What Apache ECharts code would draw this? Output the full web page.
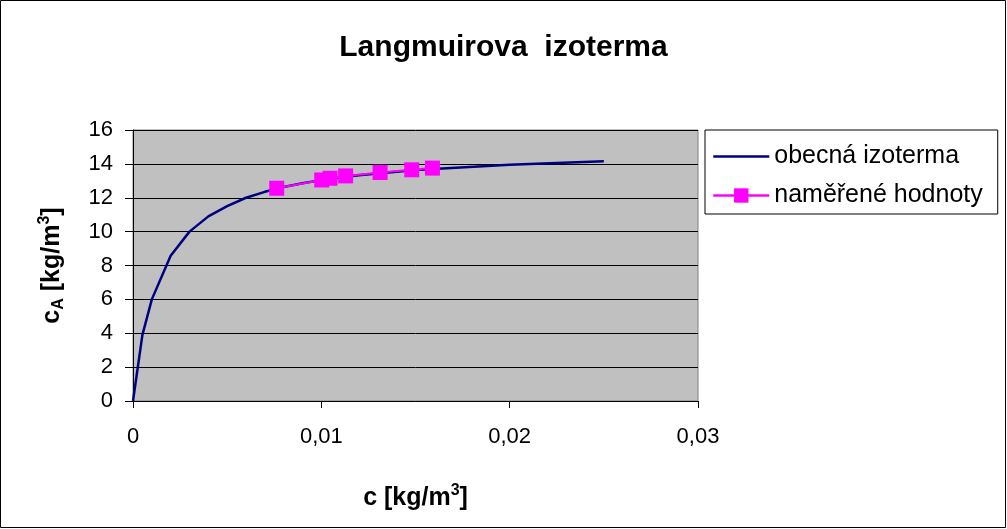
<!DOCTYPE html>
<html><head><meta charset="utf-8">
<script src="https://cdn.jsdelivr.net/npm/echarts@6/dist/echarts.min.js"></script>
<style>html,body{margin:0;padding:0;background:#fff}#c{width:1007px;height:529px}</style>
</head><body><div id="c"></div>
<script>
var curveC = [0, 0.0005, 0.001, 0.002, 0.003, 0.004, 0.005, 0.006, 0.007, 0.008, 0.009, 0.01, 0.012, 0.015, 0.02, 0.025];
var curveCA = [0, 3.9, 6.0, 8.57, 10.0, 10.9, 11.5, 12.0, 12.35, 12.63, 12.86, 13.04, 13.33, 13.64, 13.95, 14.15];
var measC = [0.00763, 0.01002, 0.01046, 0.01129, 0.01312, 0.0148, 0.0159];
var measCA = [12.56, 13.05, 13.15, 13.29, 13.49, 13.65, 13.75];
var seriesNames = ['obecná izoterma', 'naměřené hodnoty'];
var titleText = 'Langmuirova  izoterma';

var chart = echarts.init(document.getElementById('c'));
var F = 'Arial, "Liberation Sans", sans-serif';
function pairs(a, b) { return a.map(function (v, i) { return [v, b[i]]; }); }
chart.setOption({
  animation: false,
  backgroundColor: '#fff',
  title: { text: titleText, left: 'center', top: 28, textStyle: { fontFamily: F, fontSize: 30, fontWeight: 'bold', color: '#000' } },
  grid: { left: 133, right: 309, top: 130, bottom: 128, show: true, backgroundColor: '#C0C0C0', borderColor: '#808080', borderWidth: 1 },
  legend: {
    orient: 'vertical', left: 705, top: 130, itemGap: 14, itemWidth: 56, itemHeight: 18,
    padding: [14, 15, 6, 7], borderColor: '#000', borderWidth: 1, backgroundColor: '#fff',
    textStyle: { fontFamily: F, fontSize: 25, color: '#000' },
    data: [
      { name: seriesNames[0], itemStyle: { color: 'rgba(0,0,0,0)', borderWidth: 0 }, lineStyle: { color: '#000080', width: 2.5 } },
      { name: seriesNames[1], lineStyle: { color: '#FF00FF', width: 2.5 } }
    ]
  },
  xAxis: {
    type: 'value', min: 0, max: 0.03, interval: 0.01,
    axisLine: { lineStyle: { color: '#000', width: 1 } },
    axisTick: { show: true, length: 7, inside: false, lineStyle: { color: '#000' } },
    splitLine: { show: false },
    axisLabel: { fontFamily: F, fontSize: 22, color: '#000', margin: 25, formatter: function (v) { return String(v).replace('.', ','); } },
    name: '{b|c [kg/m}{s|3}{b|]}', nameLocation: 'middle', nameGap: 82,
    nameTextStyle: { rich: { b: { fontFamily: F, fontSize: 25, fontWeight: 'bold', color: '#000', verticalAlign: 'bottom' }, s: { fontFamily: F, fontSize: 16, fontWeight: 'bold', color: '#000', verticalAlign: 'top', padding: [0, 0, 12, 0] } } }
  },
  yAxis: {
    type: 'value', min: 0, max: 16, interval: 2,
    axisLine: { show: true, lineStyle: { color: '#000', width: 1 } },
    axisTick: { show: true, length: 8, inside: false, lineStyle: { color: '#000' } },
    splitLine: { show: true, lineStyle: { color: '#000', width: 1 } },
    axisLabel: { fontFamily: F, fontSize: 22, color: '#000', margin: 20 },
    name: '{b|c}{sub|A}{b| [kg/m}{s|3}{b|]}', nameLocation: 'middle', nameGap: 66, nameRotate: 90,
    nameTextStyle: { rich: {
      b: { fontFamily: F, fontSize: 25, fontWeight: 'bold', color: '#000' },
      sub: { fontFamily: F, fontSize: 16, fontWeight: 'bold', color: '#000', padding: [14, 0, 0, 0] },
      s: { fontFamily: F, fontSize: 16, fontWeight: 'bold', color: '#000', padding: [0, 0, 14, 0] } } }
  },
  series: [
    { name: seriesNames[0], type: 'line', data: pairs(curveC, curveCA), symbol: 'none', lineStyle: { color: '#000080', width: 2.5 }, itemStyle: { color: '#000080' }, z: 2 },
    { name: seriesNames[1], type: 'line', data: pairs(measC, measCA), symbol: 'rect', symbolSize: 15, lineStyle: { color: '#FF00FF', width: 2 }, itemStyle: { color: '#FF00FF' }, z: 3 }
  ],
  graphic: [{ type: 'rect', shape: { x: 0.5, y: 0.5, width: 1005, height: 527 }, style: { fill: 'none', stroke: '#000', lineWidth: 1 }, silent: true }]
});
</script></body></html>
